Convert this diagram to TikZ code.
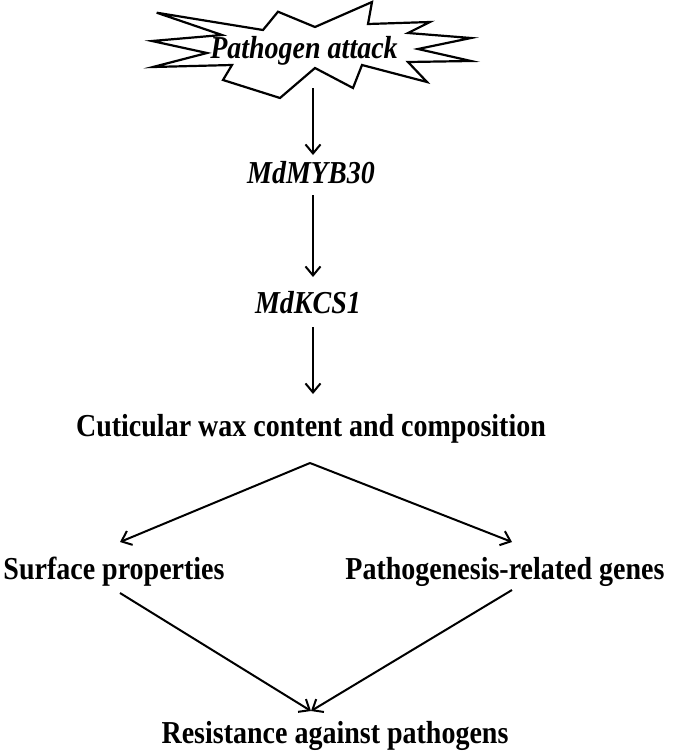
\documentclass[tikz,border=0pt]{standalone}
\usepackage{fontspec}
\setmainfont{Liberation Serif}
\usetikzlibrary{arrows.meta}
\newcommand{\tallx}[1]{\scalebox{1}[1.14]{#1}}
\tikzset{
  lbl/.style={font=\fontsize{28}{32}\selectfont\bfseries, anchor=base, inner sep=0pt},
  gene/.style={font=\fontsize{28}{32}\selectfont\bfseries\itshape, anchor=base, inner sep=0pt},
  arr/.style={line width=2pt, -{Straight Barb[length=9pt,width=15pt,line width=2pt]}},
  burst/.style={line width=2.2pt, line join=miter}
}
\begin{document}
\begin{tikzpicture}[x=1pt,y=-1pt]
\useasboundingbox (0,0) rectangle (685,753);
% starburst
\draw[burst] (156.7,12.7) -- (263,30) -- (278,11.7) -- (315,27) -- (372,2) -- (368,24)
  -- (430,22) -- (408,33) -- (471,38) -- (418,49) -- (471,61) -- (408,62) -- (427,82)
  -- (362,65) -- (353,88) -- (315,68) -- (280,98) -- (223,80) -- (232,65) -- (153,67)
  -- (207,53) -- (152,41) -- (222,35) -- cycle;
\node[gene] (patho) at (304,58) {\tallx{Pathogen attack}};
\node[gene] (myb) at (311,183) {\tallx{MdMYB30}};
\node[gene] (kcs) at (308,313) {\tallx{MdKCS1}};
\node[lbl] (wax) at (311,436) {\tallx{Cuticular wax content and composition}};
\node[lbl] (surf) at (114,579) {\tallx{Surface properties}};
\node[lbl] (prg) at (505,579) {\tallx{Pathogenesis-related genes}};
\node[lbl] (res) at (335,743) {\tallx{Resistance against pathogens}};
% connector end points
\coordinate (a1s) at (313,88);  \coordinate (a1e) at (313,155);
\coordinate (a2s) at (313,195); \coordinate (a2e) at (313,277);
\coordinate (a3s) at (313,327); \coordinate (a3e) at (313,394);
\coordinate (apex) at (310,463);
\coordinate (ltip) at (120,542); \coordinate (rtip) at (512,542);
\coordinate (lst) at (120,593); \coordinate (rst) at (512,590);
\coordinate (btip) at (311,711);
\draw[arr] (a1s) -- (a1e);
\draw[arr] (a2s) -- (a2e);
\draw[arr] (a3s) -- (a3e);
\draw[arr] (apex) -- (ltip);
\draw[arr] (apex) -- (rtip);
\draw[arr] (lst) -- (btip);
\draw[arr] (rst) -- (btip);
\end{tikzpicture}
\end{document}
